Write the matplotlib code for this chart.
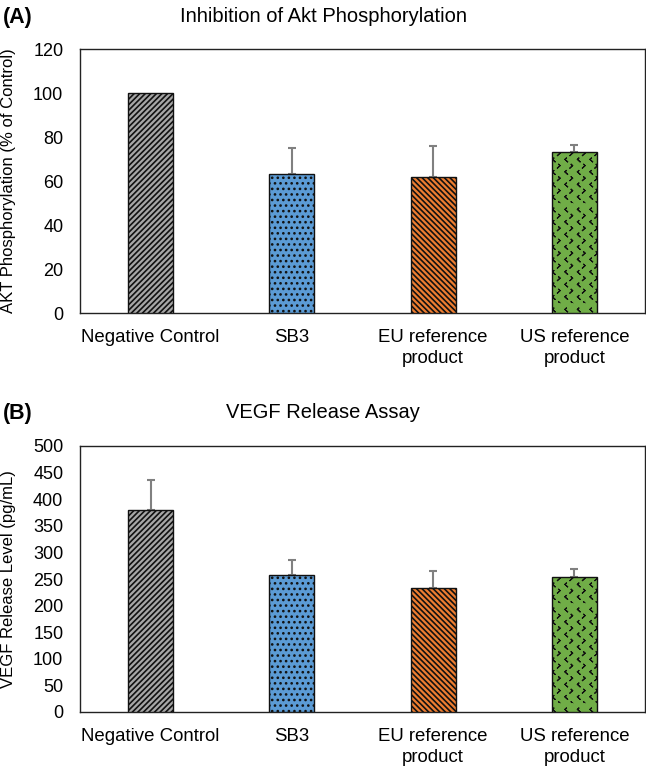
import numpy as np
import matplotlib
matplotlib.use("Agg")
import matplotlib.pyplot as plt
import matplotlib.hatch as mhatch
from matplotlib.path import Path

# ---------------- data ----------------
categories = ["Negative Control", "SB3", "EU reference\nproduct", "US reference\nproduct"]
akt_values = [100, 63, 62, 73]
akt_errors = [0, 12, 14, 3.5]
vegf_values = [380, 258, 234, 254]
vegf_errors = [56, 27, 31, 14]

fill_colors = ["#a6a6a6", "#5b9bd5", "#ed7d31", "#70ad47"]
hatches = ["//////", "...", "\\\\\\\\\\\\", "O"]
hatch_lw = [1.2, 1.1, 1.2, 0.8]


# ---------------- custom chevron hatch (replaces 'O') ----------------
class Chevrons(mhatch.HatchPatternBase):
    ncols = 8

    def __init__(self, hatch, density):
        if "O" in hatch:
            self.nrows = 2 * self.ncols
            self.num_vertices = 5 * self.ncols * self.nrows
        else:
            self.nrows = 0
            self.num_vertices = 0

    def set_vertices_and_codes(self, vertices, codes):
        w, h = 0.014, 0.013
        k = 0
        for r in range(self.nrows):
            y = (r + 0.5) / self.nrows
            for c in range(self.ncols):
                if r % 2 == 0:
                    x = (c + 0.25) / self.ncols
                    pts = [(x + w / 2, y + h), (x - w / 2, y), (x + w / 2, y - h)]
                else:
                    x = (c + 0.75) / self.ncols
                    pts = [(x - w / 2, y + h), (x + w / 2, y), (x - w / 2, y - h)]
                seq = [pts[0], pts[1], pts[2], pts[1], pts[0]]
                vertices[k:k + 5] = seq
                codes[k:k + 5] = [Path.MOVETO, Path.LINETO, Path.LINETO,
                                  Path.LINETO, Path.LINETO]
                k += 5


for i, t in enumerate(mhatch._hatch_types):
    if t.__name__ == "LargeCircles":
        mhatch._hatch_types[i] = Chevrons

plt.rcParams["font.family"] = ["Liberation Sans", "DejaVu Sans"]

W, H = 646, 769
fig = plt.figure(figsize=(W / 100, H / 100), dpi=100)
ax_a = fig.add_axes([80 / W, 1 - 313 / H, 565 / W, 264 / H])
ax_b = fig.add_axes([80 / W, 1 - 712 / H, 565 / W, 266 / H])

x = np.arange(len(categories))


def draw_panel(ax, values, errors, ymax, ystep, title, ylabel, tag, title_y):
    for i in range(len(values)):
        with plt.rc_context({"hatch.linewidth": hatch_lw[i]}):
            ax.bar(x[i], values[i], width=0.32, color=fill_colors[i],
                   edgecolor="#111111", linewidth=1.0, hatch=hatches[i], zorder=3)
        if errors[i] > 0:
            ax.errorbar(x[i], values[i], yerr=[[0], [errors[i]]], fmt="none",
                        ecolor="#808080", elinewidth=1.5, capsize=2.8,
                        capthick=1.5, zorder=2)
    ax.set_xlim(-0.5, len(values) - 0.5)
    ax.set_ylim(0, ymax)
    ax.set_yticks(np.arange(0, ymax + 1, ystep))
    ax.set_xticks(x)
    ax.set_xticklabels(categories, fontsize=13.4, color="#000000", linespacing=1.3)
    ax.tick_params(axis="y", length=0, labelsize=13, pad=12)
    ax.tick_params(axis="x", length=0, pad=11.5)
    for s in ax.spines.values():
        s.set_color("#222222")
        s.set_linewidth(1.0)
    ax.set_ylabel(ylabel, fontsize=12)
    ax.yaxis.set_label_coords(-64 / 565, 0.5)
    fig.text(0.5, 1 - title_y / H, title, fontsize=14.5, ha="center", va="center")
    fig.text(3 / W, 1 - title_y / H, tag, fontsize=15.5, fontweight="bold",
             ha="left", va="center")


draw_panel(ax_a, akt_values, akt_errors, 120, 20,
           "Inhibition of Akt Phosphorylation",
           "AKT Phosphorylation (% of Control)", "(A)", 17)
draw_panel(ax_b, vegf_values, vegf_errors, 500, 50,
           "VEGF Release Assay",
           "VEGF Release Level (pg/mL)", "(B)", 413)

fig.savefig("out.png", dpi=100)
